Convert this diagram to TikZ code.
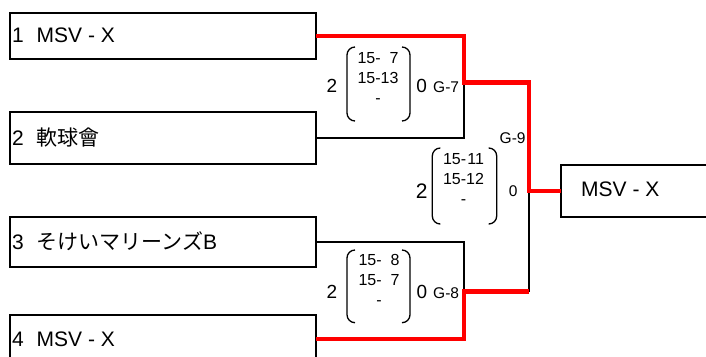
\documentclass[tikz,border=0pt]{standalone}
\usepackage{fontspec}
\setmainfont{Liberation Sans}
\newfontfamily\cjk{Noto Sans CJK JP}
\newcommand\scoretab[4]{\begin{tabular}{@{}l@{}r@{}}#1&\makebox[1.112em][r]{#2}\\#3&\makebox[1.112em][r]{#4}\\\multicolumn{2}{c}{-}\end{tabular}}
\begin{document}
\begin{tikzpicture}[x=1pt,y=-1pt,
  teambox/.style={draw, line width=2pt, inner sep=0pt, outer sep=0pt, anchor=north west},
  teamtext/.style={anchor=base west, inner sep=0pt, font=\fontsize{21}{24}\selectfont},
  setsize/.style={inner sep=0pt, font=\fontsize{19}{22}\selectfont, anchor=base},
  gametag/.style={inner sep=0pt, font=\fontsize{15.5}{18}\selectfont, anchor=base west},
  sets/.style={inner sep=0pt, font=\fontsize{16}{20}\selectfont},
  paren/.style={draw, line width=1.3pt, rounded corners=8pt},
  blk/.style={draw, line width=2pt},
  win/.style={draw, red, line width=4.5pt}]
\clip (0,0) rectangle (706,356);
% team boxes
\node[teambox, minimum width=305.7pt, minimum height=46.5pt] (b1) at (10.3,12.5) {};
\node[teambox, minimum width=305.7pt, minimum height=52.6pt] (b2) at (10.3,111.7) {};
\node[teambox, minimum width=305.7pt, minimum height=50pt] (b3) at (10.3,216.8) {};
\node[teambox, minimum width=305.7pt, minimum height=48pt] (b4) at (10.3,315) {};
\node[teambox, minimum width=200pt, minimum height=52pt] (fin) at (561,165) {};
\node[teamtext] (t1) at (12,42.7) {\makebox[24.5pt][l]{1}MSV - X};
\node[teamtext] (t2) at (12,145.7) {\makebox[24.5pt][l]{2}{\cjk 軟球會}};
\node[teamtext] (t3) at (12,249.3) {\makebox[24.5pt][l]{3}{\cjk そけいマリーンズ}B};
\node[teamtext] (t4) at (12,346.7) {\makebox[24.5pt][l]{4}MSV - X};
\node[teamtext] (tf) at (581,196.7) {MSV - X};
% match 1
\node[setsize] (m1a) at (332,92.7) {2};
\node[sets] (m1s) at (378,79.3) {\scoretab{15-}{7}{15-}{13}};
\node[setsize] (m1b) at (421.7,92.7) {0};
\node[gametag] (g7) at (433,92.7) {G-7};
\path[paren] (355,47) -| (347,121) -- (355,121);
\path[paren] (402,47) -| (410,121) -- (402,121);
% match 3
\node[setsize] (m3a) at (332,298.3) {2};
\node[sets] (m3s) at (379,281.7) {\scoretab{15-}{8}{15-}{7}};
\node[setsize] (m3b) at (422,298.3) {0};
\node[gametag] (g8) at (433,298) {G-8};
\path[paren] (355,250) -| (347,322.7) -- (355,322.7);
\path[paren] (402,250) -| (410,322.7) -- (402,322.7);
% final
\node[setsize, font=\fontsize{21}{24}\selectfont] (m2a) at (421.7,198.3) {2};
\node[sets] (m2s) at (463.5,180.3) {\scoretab{15-}{11}{15-}{12}};
\node[setsize, font=\fontsize{15.5}{18}\selectfont] (m2b) at (513.3,196) {0};
\node[gametag] (g9) at (499.5,143.5) {G-9};
\path[paren] (440,148) -| (432.3,224) -- (440,224);
\path[paren] (489,148) -| (496.7,224) -- (489,224);
% connectors
\coordinate (j1) at (464,82.5);
\coordinate (j2) at (464,291.5);
\coordinate (j3) at (529,191);
\draw[blk] (b2.east) -| (j1);
\draw[blk] (b3.east) -| (j2);
\draw[blk] (j2 -| j3) -- (j3);
\draw[win] (b1.east) -| (j1) -| (j3) -- (fin.west);
\draw[win] (b4.east) -| (j2) -- (j2 -| j3);
\end{tikzpicture}
\end{document}
